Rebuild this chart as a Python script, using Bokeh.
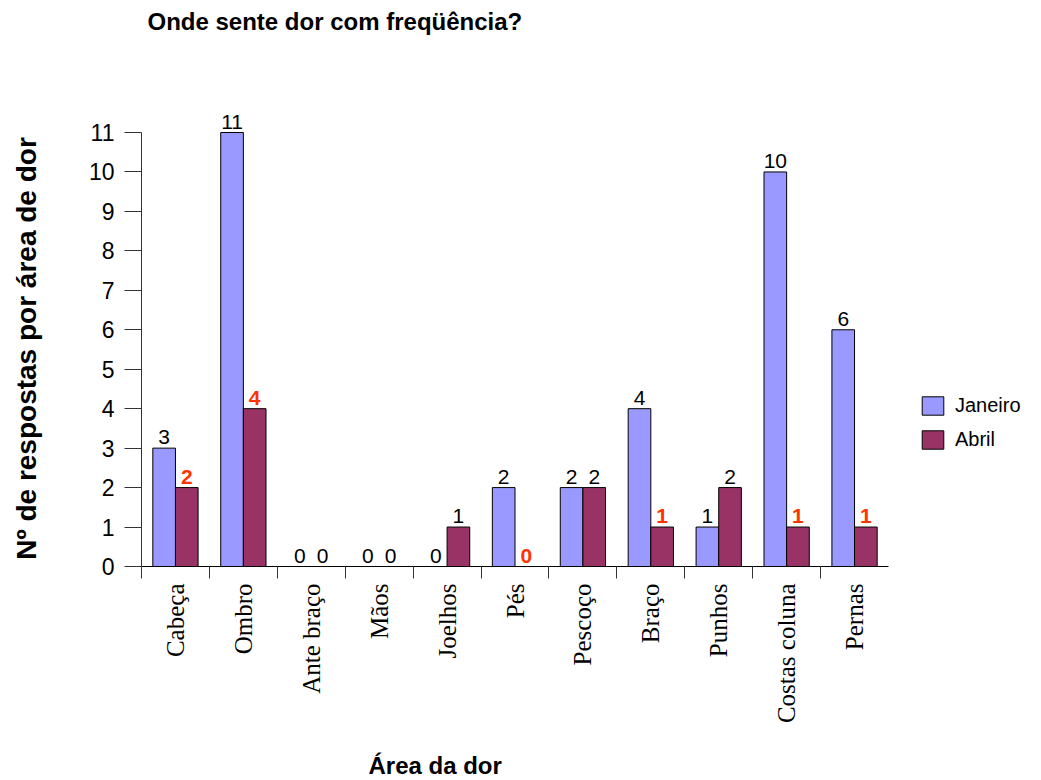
import math
from bokeh.plotting import figure
from bokeh.models import Range1d, FixedTicker, Label, Legend, LegendItem, ColumnDataSource
from bokeh.core.properties import value
from bokeh.embed import file_html
from bokeh.resources import INLINE

categories = ["Cabeça", "Ombro", "Ante braço", "Mãos", "Joelhos", "Pés",
              "Pescoço", "Braço", "Punhos", "Costas coluna", "Pernas"]
janeiro = [3, 11, 0, 0, 0, 2, 2, 4, 1, 10, 6]
abril = [2, 4, 0, 0, 1, 0, 2, 1, 2, 1, 1]
y_ticks = list(range(0, 12))

title_text = "Onde sente dor com freqüência?"
x_title = "Área da dor"
y_title = "Nº de respostas por área de dor"

COL_JAN = "#9999FF"
COL_ABR = "#993366"
RED = "#FF3300"

n = len(categories)
y_max = 11
centers = [i + 0.5 for i in range(n)]
bw = 1.0 / 3.0

# layout (pixels): plotting area of the bars
W, H = 1041, 780
AX_L, AX_R, AX_B, AX_T = 141, 888, 566, 132
XS = (AX_R - AX_L) / n        # px per category
YS = (AX_B - AX_T) / y_max    # px per unit

def dx(px):
    return (px - AX_L) / XS

def dy(py):
    return (AX_B - py) / YS

src_j = ColumnDataSource(dict(
    x=[c - bw / 2 for c in centers], top=janeiro, label=[str(v) for v in janeiro],
))
abr_colors = [RED if a < j else "black" for a, j in zip(abril, janeiro)]
abr_styles = ["bold" if a < j else "normal" for a, j in zip(abril, janeiro)]
src_a = ColumnDataSource(dict(
    x=[c + bw / 2 for c in centers], top=abril, label=[str(v) for v in abril],
    color=abr_colors, style=abr_styles,
))

p = figure(width=W, height=H, x_range=Range1d(dx(0), dx(W)), y_range=Range1d(dy(H), dy(0)),
           output_backend="svg", toolbar_location=None,
           min_border=0, min_border_left=0, min_border_right=0,
           min_border_top=0, min_border_bottom=0)
p.title.text = ""
p.outline_line_color = None
p.xgrid.visible = False
p.ygrid.visible = False
p.background_fill_color = "white"
p.border_fill_color = "white"

rj = p.vbar(x="x", top="top", width=bw, bottom=0, source=src_j,
            fill_color=COL_JAN, line_color="black", line_width=1)
ra = p.vbar(x="x", top="top", width=bw, bottom=0, source=src_a,
            fill_color=COL_ABR, line_color="black", line_width=1)

p.text(x="x", y="top", text="label", source=src_j, text_align="center",
       text_baseline="bottom", y_offset=-4, text_font=value("Liberation Sans"),
       text_font_size="21px", text_color="black")
p.text(x="x", y="top", text="label", source=src_a, text_align="center",
       text_baseline="bottom", y_offset=-4, text_font=value("Liberation Sans"),
       text_font_size="21px", text_color="color", text_font_style="style")

# x axis
xa = p.xaxis[0]
xa.fixed_location = 0
xa.bounds = (0, n)
xa.ticker = FixedTicker(ticks=centers, minor_ticks=list(range(0, n)))
xa.major_label_overrides = {c: name for c, name in zip(centers, categories)}
xa.major_label_orientation = math.pi / 2
xa.major_tick_out = 0
xa.major_tick_in = 0
xa.minor_tick_out = 12
xa.minor_tick_in = 0
xa.minor_tick_line_color = "#333333"
xa.axis_line_color = "black"
xa.major_label_text_font = "Liberation Serif"
xa.major_label_text_font_size = "25px"
xa.major_label_text_color = "black"
xa.major_label_standoff = 5

# y axis
ya = p.yaxis[0]
ya.fixed_location = 0
ya.bounds = (0, y_max)
ya.ticker = FixedTicker(ticks=y_ticks)
ya.major_tick_out = 17
ya.major_tick_in = 0
ya.minor_tick_out = 0
ya.minor_tick_in = 0
ya.major_tick_line_color = "#333333"
ya.axis_line_color = "#333333"
ya.major_label_text_font = "Liberation Sans"
ya.major_label_text_font_size = "23px"
ya.major_label_text_color = "black"
ya.major_label_standoff = 10

# titles
p.add_layout(Label(x=dx(147), y=dy(21), text=title_text, text_align="left",
                   text_baseline="middle", text_font="Liberation Sans",
                   text_font_size="24px", text_font_style="bold", text_color="black"))
p.add_layout(Label(x=dx(368), y=dy(765), text=x_title, text_align="left",
                   text_baseline="middle", text_font="Liberation Sans",
                   text_font_size="24px", text_font_style="bold", text_color="black"))
p.add_layout(Label(x=dx(26), y=dy(348), text=y_title, text_align="center",
                   text_baseline="middle", angle=math.pi / 2, text_font="Liberation Sans",
                   text_font_size="28px", text_font_style="bold", text_color="black"))

legend = Legend(items=[LegendItem(label="Janeiro", renderers=[rj]),
                       LegendItem(label="Abril", renderers=[ra])],
                location=(919, H - 451), orientation="vertical",
                glyph_width=27, glyph_height=23, label_height=23, label_standoff=9,
                spacing=11, padding=0, margin=0,
                border_line_alpha=0, background_fill_alpha=0,
                label_text_font="Liberation Sans", label_text_font_size="20px",
                label_text_color="black")
p.add_layout(legend, "center")

open("out.html", "w").write(file_html(p, INLINE))
